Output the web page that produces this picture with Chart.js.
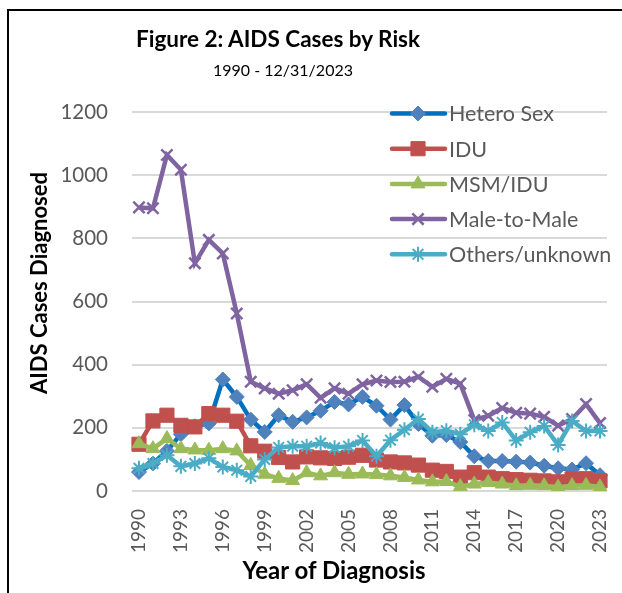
<!DOCTYPE html>
<html>
<head>
<meta charset="utf-8">
<script src="https://cdn.jsdelivr.net/npm/chart.js@4.4.1/dist/chart.umd.min.js"></script>
<style>
html, body { margin: 0; padding: 0; background: #fff; overflow: hidden; }
#wrap { position: relative; width: 622px; height: 593px; overflow: hidden; }
#frame { position: absolute; left: 7px; top: 9px; width: 700px; height: 700px; border: 2px solid #000; }
#chart { position: absolute; left: 0; top: 0; }
.txt { position: absolute; left: 0; text-align: center; font-family: Lato, sans-serif; color: #000; white-space: nowrap; }
#title { width: 556px; top: 26px; font-size: 22.5px; font-weight: bold; line-height: 26px; }
#sub { width: 566px; top: 60px; font-size: 16px; line-height: 20px; }
#xtitle { width: 668px; top: 556px; font-size: 24px; font-weight: bold; line-height: 28px; }
#ytitle { width: 300px; left: -111px; top: 270px; font-size: 22px; font-weight: bold; line-height: 26px; transform: rotate(-90deg); }
</style>
</head>
<body>
<div id="wrap">
  <div id="frame"></div>
  <canvas id="chart" width="622" height="593"></canvas>
  <div class="txt" id="title">Figure 2: AIDS Cases by Risk</div>
  <div class="txt" id="sub">1990 - 12/31/2023</div>
  <div class="txt" id="ytitle">AIDS Cases Diagnosed</div>
  <div class="txt" id="xtitle">Year of Diagnosis</div>
</div>
<script>
var years = [];
for (let y = 1990; y <= 2023; y++) years.push(String(y));

var seriesNames = ['Hetero Sex', 'IDU', 'MSM/IDU', 'Male-to-Male', 'Others/unknown'];

var heteroSex = [60, 87, 127, 180, 205, 214, 353, 298, 226, 187,
	240, 219, 233, 254, 282, 274, 298, 270, 226, 272,
	212, 175, 177, 155, 110, 95, 95, 93, 90, 80,
	72, 68, 88, 50];
var idu = [148, 222, 240, 208, 203, 245, 240, 221, 143, 126,
	106, 92, 108, 105, 103, 107, 113, 98, 92, 89,
	82, 66, 62, 44, 58, 44, 39, 36, 34, 32,
	29, 38, 39, 32];
var msmIdu = [150, 134, 166, 134, 130, 129, 134, 127, 81, 53,
	40, 33, 58, 48, 58, 53, 54, 52, 48, 43,
	35, 29, 30, 14, 22, 27, 22, 17, 18, 17,
	12, 17, 18, 13];
var maleToMale = [898, 895, 1064, 1017, 721, 795, 752, 562, 346, 325,
	308, 319, 338, 295, 325, 308, 338, 350, 345, 346,
	362, 330, 355, 340, 225, 238, 263, 248, 245, 235,
	207, 228, 275, 215];
var othersUnknown = [72, 87, 113, 78, 87, 104, 76, 66, 46, 100,
	138, 142, 142, 152, 137, 142, 160, 110, 161, 194,
	228, 186, 191, 180, 210, 190, 217, 160, 186, 206,
	146, 222, 190, 190];

var yTicks = [0, 200, 400, 600, 800, 1000, 1200];

function makeSet(label, data, lineColor, markColor, style, radius, bw, order){
	return {
		label: label,
		data: data,
		borderColor: lineColor,
		backgroundColor: markColor,
		borderWidth: 4.5,
		tension: 0,
		pointStyle: style,
		pointRadius: radius,
		pointBackgroundColor: markColor,
		pointBorderColor: markColor,
		pointBorderWidth: bw,
		order: order
	};
}

var datasets = [
	makeSet(seriesNames[0], heteroSex, '#0070c0', '#4f81bd', 'rectRot', 7.5, 1, 5),
	makeSet(seriesNames[1], idu, '#c0504d', '#c0504d', 'rect', 10, 1, 4),
	makeSet(seriesNames[2], msmIdu, '#9bbb59', '#9bbb59', 'triangle', 8, 1, 3),
	makeSet(seriesNames[3], maleToMale, '#8064a2', '#8064a2', 'crossRot', 8, 2.5, 2),
	makeSet(seriesNames[4], othersUnknown, '#4bacc6', '#4bacc6', 'star', 7.5, 2, 1)
];

// legend sits inside the plot, top right, like the excel one
var insideLegend = {
	id: 'insideLegend',
	afterDraw: function(chart){
		var ctx = chart.ctx;
		var x0 = chart.chartArea.right - 217;
		var y0 = chart.chartArea.top + 1.5;
		ctx.save();
		chart.data.datasets.forEach(function(ds, i){
			var y = y0 + i * 35.2;
			ctx.strokeStyle = ds.borderColor;
			ctx.lineWidth = ds.borderWidth;
			ctx.lineCap = 'round';
			ctx.beginPath();
			ctx.moveTo(x0 + 2, y);
			ctx.lineTo(x0 + 55, y);
			ctx.stroke();
			ctx.lineCap = 'butt';
			ctx.fillStyle = ds.pointBackgroundColor;
			ctx.strokeStyle = ds.pointBorderColor;
			ctx.lineWidth = ds.pointBorderWidth;
			Chart.helpers.drawPoint(ctx, {pointStyle: ds.pointStyle, radius: ds.pointRadius, borderWidth: ds.pointBorderWidth, rotation: 0}, x0 + 28, y);
			ctx.fillStyle = '#595959';
			ctx.font = '21.5px Lato';
			ctx.textAlign = 'left';
			ctx.textBaseline = 'middle';
			ctx.fillText(ds.label, x0 + 59, y + 1);
		});
		ctx.restore();
	}
};

new Chart(document.getElementById('chart'), {
	type: 'line',
	data: { labels: years, datasets: datasets },
	plugins: [insideLegend],
	options: {
		responsive: false,
		animation: false,
		devicePixelRatio: 1,
		layout: { padding: { top: 112, left: 23, right: 15, bottom: 0 } },
		plugins: {
			legend: { display: false },
			title: { display: false },
			tooltip: { enabled: false }
		},
		scales: {
			x: {
				offset: true,
				grid: { display: false, drawTicks: false },
				border: { display: false },
				afterFit: function(s){
					s.height = 102;
					s.paddingLeft = 0;
					s.paddingRight = 0;
				},
				ticks: {
					autoSkip: false,
					minRotation: 90,
					maxRotation: 90,
					padding: 18,
					color: '#595959',
					font: { family: 'Lato', size: 19 },
					callback: function(v, i){ return i % 3 === 0 ? years[i] : ''; }
				}
			},
			y: {
				min: yTicks[0],
				max: yTicks[yTicks.length - 1],
				afterFit: function(s){ s.width = 109; },
				grid: { color: '#d9d9d9', lineWidth: 2, drawTicks: false },
				border: { display: false },
				afterBuildTicks: function(s){ s.ticks = yTicks.map(function(v){ return {value: v}; }); },
				ticks: {
					padding: 24,
					color: '#595959',
					font: { family: 'Lato', size: 20.5 },
					callback: function(v){ return String(v); }
				}
			}
		}
	}
});
</script>
</body>
</html>
